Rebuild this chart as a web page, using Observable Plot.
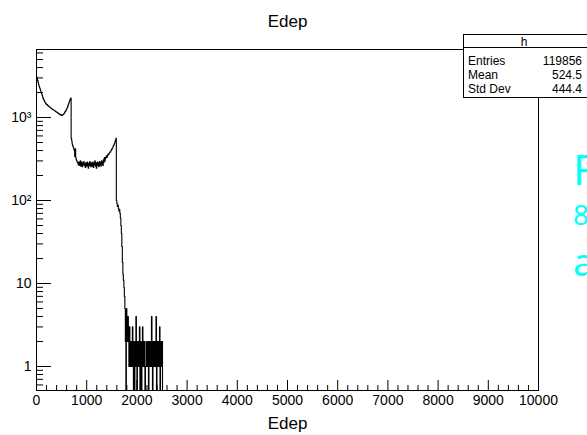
<!DOCTYPE html>
<html><head><meta charset="utf-8">
<script src="https://cdn.jsdelivr.net/npm/d3@7"></script>
<script src="https://cdn.jsdelivr.net/npm/@observablehq/plot@0.6"></script>
<style>body{margin:0;background:#fff;} svg{display:block}</style>
</head><body><div id="chart"></div>
<script>
// Histogram "h": 1000 bins of width 10 over [0, 10000]; only the non-empty start is listed.
const binWidth = 10;
const counts = [
  // 0 - 690
  3100, 2950, 2800, 2650, 2500, 2380, 2280, 2200, 2100, 2000,
  1930, 1850, 1780, 1700, 1650, 1600, 1560, 1520, 1490, 1460,
  1440, 1420, 1400, 1385, 1370, 1350, 1340, 1320, 1310, 1290,
  1280, 1265, 1250, 1240, 1230, 1220, 1205, 1195, 1180, 1170,
  1160, 1150, 1140, 1130, 1110, 1095, 1100, 1080, 1070, 1075,
  1060, 1065, 1080, 1090, 1110, 1130, 1160, 1185, 1210, 1240,
  1280, 1320, 1370, 1430, 1490, 1550, 1610, 1680, 1720,
  // 690 - 830
  560, 520, 480, 455, 440, 420, 400, 340, 420, 330, 310, 300, 290,
  // 830 - 1360 plateau
  285, 270, 290, 265, 280, 300, 260, 275, 290, 255,
  280, 270, 295, 265, 275, 250, 285, 270, 260, 290,
  275, 245, 280, 265, 295, 270, 255, 285, 275, 260,
  290, 250, 280, 270, 300, 260, 285, 245, 275, 290,
  265, 280, 255, 295, 270, 285, 260, 300, 275, 290,
  265, 310, 290,
  // 1360 - 1600 rise
  330, 300, 320, 335, 345, 330, 350, 360, 355, 370,
  375, 385, 385, 400, 410, 420, 430, 445, 460, 470,
  490, 510, 530, 560,
  // 1600 - 1790 fall
  100, 92, 85, 88, 80, 75, 78, 70, 62, 50,
  40, 28, 18, 13, 11, 9, 7, 5, 2, 0,
  // 1800 - 2530 tail
  5, 4, 2, 4, 2, 1, 3, 2, 1, 2,
  1, 2, 3, 1, 0, 2, 0, 1, 2, 4,
  1, 0, 2, 1, 2, 1, 3, 0, 2, 1,
  0, 2, 3, 1, 2, 1, 2, 0, 1, 1,
  2, 1, 2, 1, 0, 2, 1, 2, 1, 2,
  4, 1, 0, 2, 1, 2, 1, 2, 1, 4,
  0, 2, 1, 2, 1, 2, 3, 0, 1, 2,
  1, 2, 0, 0, 0, 0, 0, 0, 0, 0
];

const xMajorTicks = [0, 1000, 2000, 3000, 4000, 5000, 6000, 7000, 8000, 9000, 10000];
const xMinorTicks = d3.range(200, 10000, 200).filter(d => d % 1000 !== 0);
const yMajorTicks = [1, 10, 100, 1000];
const yTickLabels = ["1", "10", "10\u00B2", "10\u00B3"];
const yMinorTicks = [0.6, 0.7, 0.8, 0.9, 2, 3, 4, 5, 6, 7, 8, 9,
  20, 30, 40, 50, 60, 70, 80, 90, 200, 300, 400, 500, 600, 700, 800, 900,
  2000, 3000, 4000, 5000, 6000];

const histTitle = "Edep";
const xTitle = "Edep";
const statsName = "h";
const statsLabels = ["Entries", "Mean", "Std Dev"];
const statsValues = ["119856", "524.5", "444.4"];
const sideTexts = ["R", "8", "a"];

const W = 587, H = 435;
const mL = 36, mR = 49, mT = 49, mB = 45;
const frameW = W - mL - mR, frameH = H - mT - mB;

const pts = counts.map((c, i) => ({x: i * binWidth, y: c > 0 ? c : 0.05}));
pts.push({x: counts.length * binWidth, y: 0.05});

const font = "Liberation Sans, Arial, Helvetica, sans-serif";

const chart = Plot.plot({
  width: W, height: H,
  marginLeft: mL, marginRight: mR, marginTop: mT, marginBottom: mB,
  style: {background: "white", fontFamily: font, color: "black"},
  x: {domain: [0, 10000], axis: null},
  y: {type: "log", domain: [0.514, 6600], axis: null},
  marks: [
    Plot.line(pts, {x: "x", y: "y", curve: "step-after", stroke: "black", strokeWidth: 1.1, clip: true}),
    Plot.frame({stroke: "black"}),
    Plot.ruleX(xMajorTicks, {x: d => d, insetTop: frameH - 10, stroke: "black"}),
    Plot.ruleX(xMinorTicks, {x: d => d, insetTop: frameH - 5, stroke: "black"}),
    Plot.ruleY(yMajorTicks, {y: d => d, insetRight: frameW - 15, stroke: "black"}),
    Plot.ruleY(yMinorTicks, {y: d => d, insetRight: frameW - 7, stroke: "black"}),
    Plot.text(xMajorTicks, {x: d => d, text: d => String(d), frameAnchor: "bottom", lineAnchor: "top", dy: 5, fontSize: 14, fill: "black"}),
    Plot.text(yMajorTicks, {y: d => d, text: (d, i) => yTickLabels[i], frameAnchor: "left", textAnchor: "end", dx: -5, fontSize: 14, fill: "black"}),
    Plot.text([histTitle], {text: d => d, frameAnchor: "top", dy: -35, fontSize: 17, fill: "black"}),
    Plot.text([xTitle], {text: d => d, frameAnchor: "bottom", dy: 38, fontSize: 17, fill: "black"})
  ]
});
document.getElementById("chart").appendChild(chart);

// Stats box
const svg = d3.select(chart);
const g = svg.append("g").attr("font-family", font).attr("fill", "black").attr("text-anchor", "start");
g.append("rect").attr("x", 463.5).attr("y", 34.5).attr("width", 124).attr("height", 63)
  .attr("fill", "white").attr("stroke", "black");
g.append("line").attr("x1", 463.5).attr("x2", 587).attr("y1", 47.5).attr("y2", 47.5).attr("stroke", "black");
g.append("text").attr("x", 524).attr("y", 41.5).attr("text-anchor", "middle")
  .attr("dominant-baseline", "central").attr("font-size", 12).text(statsName);
statsLabels.forEach((lab, i) => {
  const yy = 61 + i * 14;
  g.append("text").attr("x", 468).attr("y", yy).attr("text-anchor", "start").attr("dominant-baseline", "central")
    .attr("font-size", 12).text(lab);
  g.append("text").attr("x", 582).attr("y", yy).attr("text-anchor", "end")
    .attr("dominant-baseline", "central").attr("font-size", 12).text(statsValues[i]);
});

// Cyan overflow text at the right edge
const c = svg.append("g").attr("font-family", "Noto Sans, sans-serif").attr("fill", "#00ffff").attr("text-anchor", "start");
c.append("text").attr("x", 573).attr("y", 185).attr("font-size", 42).attr("text-anchor", "start").text(sideTexts[0]);
c.append("text").attr("x", 573).attr("y", 225).attr("font-size", 28).attr("text-anchor", "start").text(sideTexts[1]);
c.append("text").attr("x", 573).attr("y", 276).attr("font-size", 38).attr("text-anchor", "start").text(sideTexts[2]);
</script></body></html>
